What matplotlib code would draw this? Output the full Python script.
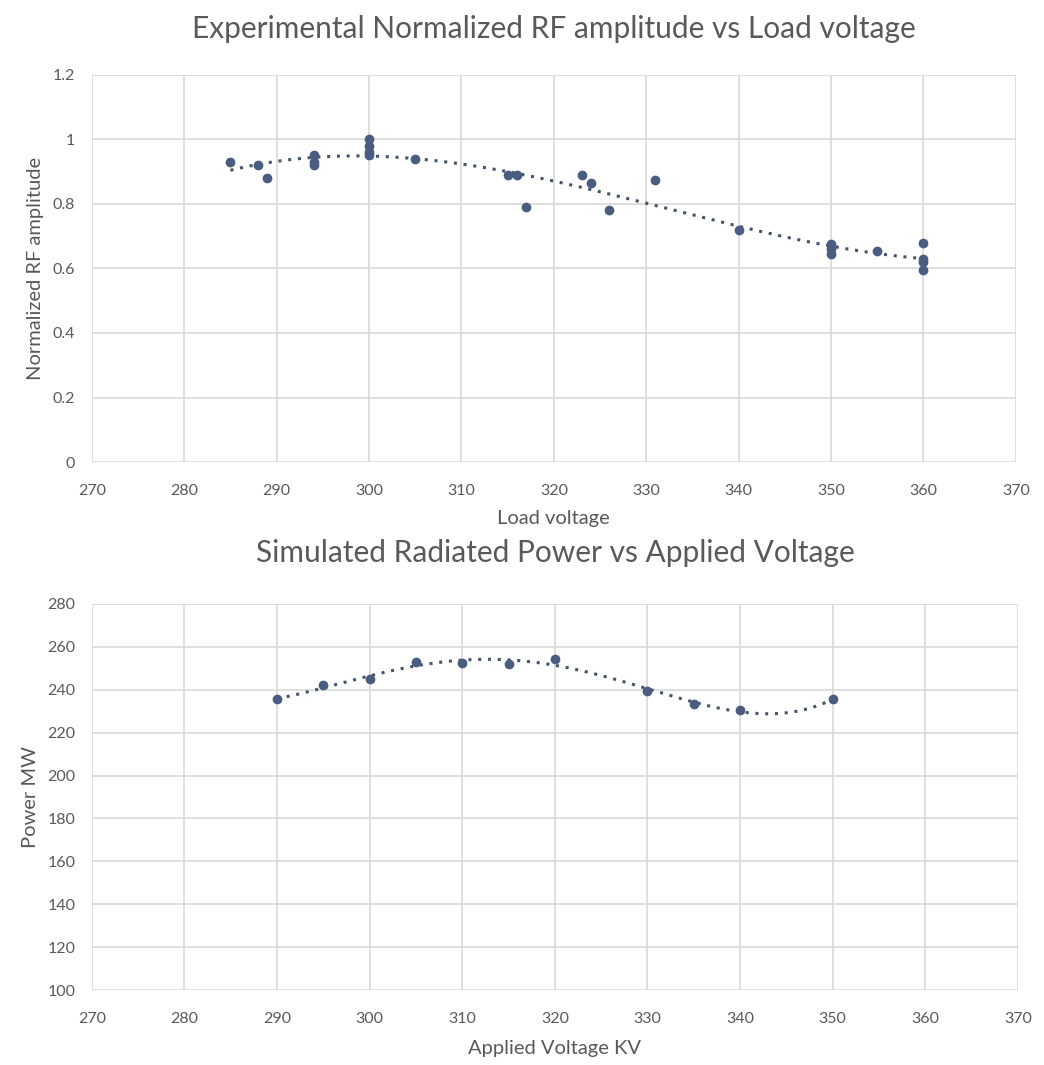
import numpy as np
import matplotlib
matplotlib.use('Agg')
import matplotlib.pyplot as plt

plt.rcParams['font.family'] = ['Lato', 'DejaVu Sans']

# measured RF amplitude (normalized) against load voltage
load_v = [285, 288, 289, 294, 294, 294, 300, 300, 300, 300, 305,
          315, 316, 317, 323, 324, 326, 331, 340,
          350, 350, 350, 355, 360, 360, 360, 360]
rf_amp = [0.93, 0.92, 0.88, 0.95, 0.93, 0.92, 1.00, 0.98, 0.96, 0.95, 0.94,
          0.89, 0.89, 0.79, 0.89, 0.865, 0.78, 0.875, 0.72,
          0.675, 0.66, 0.645, 0.655, 0.68, 0.63, 0.62, 0.595]

# simulated radiated power against applied voltage
applied_v = [290, 295, 300, 305, 310, 315, 320, 330, 335, 340, 350]
power_mw = [235.5, 242, 245, 253, 252.5, 252, 254.5, 239.5, 233.5, 230.5, 235.5]

MARKER = '#4a5d80'
TREND = '#44546a'
TEXT = '#595959'
GRID = '#d9d9d9'


def style(ax):
    for s in ax.spines.values():
        s.set_visible(False)
    ax.grid(True, color=GRID, linewidth=1.2)
    ax.set_axisbelow(True)
    ax.tick_params(length=0, colors=TEXT, labelsize=11.5)
    ax.tick_params(axis='x', pad=16)
    ax.tick_params(axis='y', pad=12)


def trend(ax, x, y, deg):
    coef = np.polyfit(x, y, deg)
    xs = np.linspace(min(x), max(x), 200)
    ax.plot(xs, np.polyval(coef, xs), color=TREND, linestyle=(0, (1, 2.2)),
            linewidth=2.2, zorder=2)


fig = plt.figure(figsize=(10.44, 10.65), dpi=100)

ax1 = fig.add_axes([0.088, 0.566, 0.885, 0.364])
style(ax1)
ax1.scatter(load_v, rf_amp, s=36, color=MARKER, zorder=3)
trend(ax1, load_v, rf_amp, 3)
ax1.set_xlim(270, 370)
ax1.set_ylim(0, 1.2)
ax1.set_xticks(range(270, 371, 10))
ax1.set_yticks([0, 0.2, 0.4, 0.6, 0.8, 1, 1.2])
ax1.set_yticklabels(['0', '0.2', '0.4', '0.6', '0.8', '1', '1.2'])
ax1.set_xlabel('Load voltage', color=TEXT, fontsize=14.5, labelpad=8)
ax1.set_ylabel('Normalized RF amplitude', color=TEXT, fontsize=14.5, labelpad=6)
ax1.set_title('Experimental Normalized RF amplitude vs Load voltage',
              color=TEXT, fontsize=21.5, pad=26)

ax2 = fig.add_axes([0.088, 0.0704, 0.887, 0.3625])
style(ax2)
ax2.scatter(applied_v, power_mw, s=36, color=MARKER, zorder=3)
trend(ax2, applied_v, power_mw, 4)
ax2.set_xlim(270, 370)
ax2.set_ylim(100, 280)
ax2.set_xticks(range(270, 371, 10))
ax2.set_yticks(range(100, 281, 20))
ax2.set_xlabel('Applied Voltage KV', color=TEXT, fontsize=14.5, labelpad=10)
ax2.set_ylabel('Power MW', color=TEXT, fontsize=14.5, labelpad=6)
ax2.set_title('Simulated Radiated Power vs Applied Voltage',
              color=TEXT, fontsize=21.5, pad=30)

fig.savefig('out.png', dpi=100, facecolor='white')
